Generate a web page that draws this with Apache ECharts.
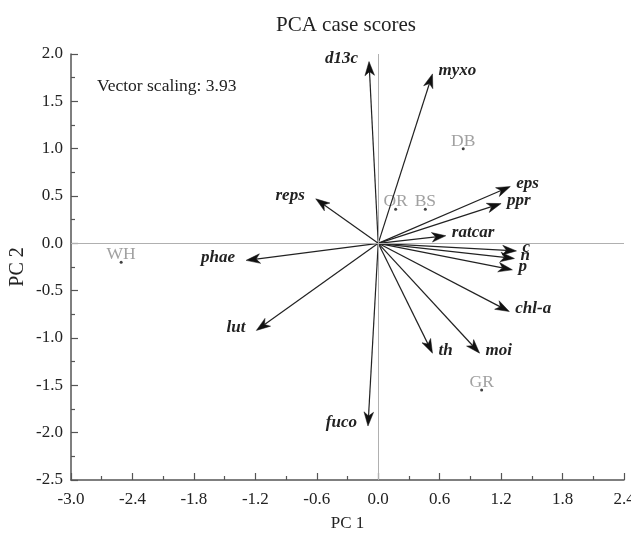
<!DOCTYPE html>
<html>
<head>
<meta charset="utf-8">
<script src="https://cdn.jsdelivr.net/npm/echarts@6/dist/echarts.min.js"></script>
<style>
html,body{margin:0;padding:0;background:#fff;}
#chart{width:631px;height:534px;}
</style>
</head>
<body>
<div id="chart"></div>
<script>
// Case scores
var caseNames = ['WH', 'OR', 'BS', 'DB', 'GR'];
var caseX = [-2.51, 0.17, 0.46, 0.83, 1.01];
var caseY = [-0.20, 0.36, 0.36, 1.00, -1.55];

// Variable vectors (tips, already scaled)
var varNames = ['d13c', 'myxo', 'eps', 'ppr', 'ratcar', 'c', 'n', 'p', 'reps', 'phae', 'lut', 'fuco', 'chl-a', 'th', 'moi'];
var varX = [-0.09, 0.53, 1.29, 1.20, 0.66, 1.35, 1.33, 1.31, -0.61, -1.29, -1.19, -0.10, 1.28, 0.53, 0.99];
var varY = [1.92, 1.79, 0.60, 0.42, 0.08, -0.08, -0.16, -0.28, 0.47, -0.18, -0.92, -1.93, -0.72, -1.16, -1.16];

var vectorScaling = '3.93';
var titleText = 'PCA case scores';
var xName = 'PC 1';
var yName = 'PC 2';

var SERIF = '"Liberation Serif", "Times New Roman", serif';

var caseData = caseNames.map(function (n, i) { return { name: n, value: [caseX[i], caseY[i]] }; });
var varData = varNames.map(function (n, i) { return [varX[i], varY[i], n]; });

function fmt(v) {
  if (Math.abs(v) < 1e-9) v = 0;
  return v.toFixed(1);
}

var chart = echarts.init(document.getElementById('chart'), null, { renderer: 'canvas' });
chart.setOption({
  animation: false,
  backgroundColor: '#fff',
  textStyle: { fontFamily: SERIF, color: '#222' },
  title: {
    text: titleText,
    left: 271,
    top: 10,
    textStyle: { fontFamily: SERIF, fontSize: 21, fontWeight: 'normal', color: '#222' }
  },
  graphic: [{
    type: 'text',
    left: 97,
    top: 77,
    style: { text: 'Vector scaling: ' + vectorScaling, font: '17.5px ' + SERIF, fill: '#222' }
  }],
  grid: { left: 71, right: 7, top: 54, bottom: 54, outerBoundsMode: 'none', containLabel: false },
  xAxis: {
    type: 'value',
    min: -3, max: 2.4, interval: 0.6,
    name: xName, nameLocation: 'middle', nameGap: 35, nameMoveOverlap: false,
    nameTextStyle: { fontFamily: SERIF, fontSize: 17, color: '#222' },
    axisLine: { onZero: false, lineStyle: { color: '#555', width: 1.5 } },
    axisTick: { inside: true, length: 7, lineStyle: { color: '#555', width: 1.2 } },
    minorTick: { show: true, splitNumber: 2, length: 4, lineStyle: { color: '#555', width: 1.2 } },
    axisLabel: { margin: 11, fontFamily: SERIF, fontSize: 17, color: '#222', formatter: fmt },
    splitLine: { show: false }
  },
  yAxis: {
    type: 'value',
    min: -2.5, max: 2, interval: 0.5,
    name: yName, nameLocation: 'middle', nameGap: 43, nameMoveOverlap: false,
    nameTextStyle: { fontFamily: SERIF, fontSize: 20, color: '#222' },
    axisLine: { onZero: false, lineStyle: { color: '#555', width: 1.5 } },
    axisTick: { inside: true, length: 7, lineStyle: { color: '#555', width: 1.2 } },
    minorTick: { show: true, splitNumber: 2, length: 4, lineStyle: { color: '#555', width: 1.2 } },
    axisLabel: { margin: 8, fontFamily: SERIF, fontSize: 17, color: '#222', formatter: fmt },
    splitLine: { show: false }
  },
  series: [
    {
      type: 'scatter',
      data: caseData,
      symbolSize: 3,
      itemStyle: { color: '#111' },
      label: {
        show: true, position: 'top', distance: -3,
        formatter: '{b}', fontFamily: SERIF, fontSize: 17.5, color: '#8a8a8a'
      },
      markLine: {
        silent: true,
        symbol: 'none',
        label: { show: false },
        lineStyle: { color: '#b0b0b0', width: 1, type: 'solid' },
        data: [{ xAxis: 0 }, { yAxis: 0 }]
      },
      z: 3
    },
    {
      type: 'custom',
      data: varData,
      clip: false,
      encode: { x: 0, y: 1 },
      z: 4,
      renderItem: function (params, api) {
        var x = api.value(0), y = api.value(1);
        var name = varNames[params.dataIndex];
        var p0 = api.coord([0, 0]);
        var p1 = api.coord([x, y]);
        var dx = p1[0] - p0[0], dy = p1[1] - p0[1];
        var len = Math.sqrt(dx * dx + dy * dy);
        var ux = dx / len, uy = dy / len;
        var px = -uy, py = ux;
        var L = 14, W = 4.8;
        var bx = p1[0] - L * ux, by = p1[1] - L * uy;
        var nx = p1[0] - 0.72 * L * ux, ny = p1[1] - 0.72 * L * uy;
        var right = x >= 0;
        return {
          type: 'group',
          children: [
            {
              type: 'line',
              shape: { x1: p0[0], y1: p0[1], x2: nx, y2: ny },
              style: { stroke: '#222', lineWidth: 1.2 }
            },
            {
              type: 'polygon',
              shape: { points: [p1, [bx + W * px, by + W * py], [nx, ny], [bx - W * px, by - W * py]] },
              style: { fill: '#111', stroke: '#111', lineWidth: 0.5 }
            },
            {
              type: 'text',
              x: right ? p1[0] + 6 : p1[0] - 11,
              y: p1[1] - 3,
              style: {
                text: name,
                font: 'italic bold 17px ' + SERIF,
                fill: '#222',
                align: right ? 'left' : 'right',
                verticalAlign: 'middle'
              }
            }
          ]
        };
      }
    }
  ]
});
</script>
</body>
</html>
